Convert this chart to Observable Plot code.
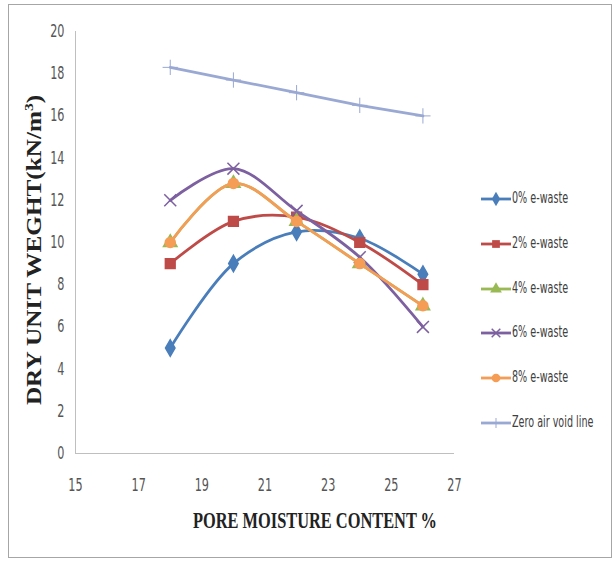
<!DOCTYPE html>
<html><head><meta charset="utf-8">
<script src="https://cdn.jsdelivr.net/npm/d3@7"></script>
<script src="https://cdn.jsdelivr.net/npm/@observablehq/plot@0.6"></script>
<style>
body{margin:0;background:#fff;}
#wrap{position:relative;width:614px;height:563px;overflow:hidden;}
#frame{position:absolute;left:8px;top:4px;width:604px;height:554px;border:1px solid #a6a6a6;box-sizing:border-box;}
#legend{position:absolute;left:481px;top:189px;font-family:"DejaVu Sans",sans-serif;font-size:15px;color:#404040;}
.li{height:44.8px;display:flex;align-items:flex-start;white-space:nowrap;}
.li svg{margin-right:1px;margin-top:1px;flex:none;}
.li span{display:inline-block;transform:scaleX(0.64);transform-origin:0 50%;}
</style></head>
<body><div id="wrap"><div id="frame"></div><div id="chart"></div><div id="legend"></div></div>
<script>
const moisture = [18, 20, 22, 24, 26];
const seriesNames = ["0% e-waste","2% e-waste","4% e-waste","6% e-waste","8% e-waste","Zero air void line"];
const w0 = [5, 9, 10.5, 10.2, 8.5];
const w2 = [9, 11, 11.2, 10, 8];
const w4 = [10, 12.8, 11, 9, 7];
const w6 = [12, 13.5, 11.5, 9.3, 6];
const w8 = [10, 12.8, 11, 9, 7];
const zav = [18.3, 17.7, 17.1, 16.5, 16.0];
const xTicks = [15, 17, 19, 21, 23, 25, 27];
const yTicks = [0, 2, 4, 6, 8, 10, 12, 14, 16, 18, 20];
const colors = ["#4A7EBB","#BE4B48","#98B954","#7D60A0","#F59D56","#9AA9D3"];
const symbols = ["diamond","square","triangle","times","circle","plus"];
const values = [w0, w2, w4, w6, w8, zav];

const data = [];
values.forEach((arr, i) => arr.forEach((v, j) => data.push({s: seriesNames[i], x: moisture[j], y: v})));

const marks = [
  Plot.ruleY([0], {stroke: "#bfbfbf"}),
  Plot.ruleX([15], {stroke: "#bfbfbf"}),
];
const order = [5, 0, 1, 2, 3, 4];
order.forEach(i => {
  const d = data.filter(p => p.s === seriesNames[i]);
  marks.push(Plot.line(d, {x: "x", y: "y", stroke: colors[i], strokeWidth: 2.8, curve: i === 5 ? "linear" : "catmull-rom"}));
  const sym = symbols[i];
  if (sym === "times") {
    marks.push(Plot.dot(d, {x: "x", y: "y", symbol: "times", r: 5.5, stroke: colors[i], strokeWidth: 1.5}));
  } else if (sym === "plus") {
    marks.push(Plot.dot(d, {x: "x", y: "y", symbol: "plus", r: 5, stroke: colors[i], strokeWidth: 1}));
  } else {
    marks.push(Plot.dot(d, {x: "x", y: "y", symbol: sym, r: sym === "square" ? 5.5 : 5, fill: colors[i], stroke: colors[i]}));
  }
});

const chart = Plot.plot({
  width: 614, height: 563,
  marginLeft: 75, marginRight: 160, marginTop: 31, marginBottom: 110,
  style: {fontFamily: "'DejaVu Sans',sans-serif", fontSize: "17px", color: "#555", background: "transparent"},
  x: {type: "linear", domain: [15, 27], label: null},
  y: {type: "linear", domain: [0, 20], label: null},
  marks: [
    ...marks,
    Plot.axisX({ticks: xTicks, tickSize: 0, tickPadding: 25, label: null, fontSize: 17}),
    Plot.axisY({ticks: yTicks, tickSize: 0, tickPadding: 11, label: null, fontSize: 17})
  ]
});
document.getElementById("chart").appendChild(chart);
const svg = d3.select(chart);
svg.selectAll('g[aria-label="x-axis tick label"] text, g[aria-label="y-axis tick label"] text').each(function() {
  const L = this.getComputedTextLength();
  this.setAttribute("textLength", L * 0.66);
  this.setAttribute("lengthAdjust", "spacingAndGlyphs");
});
svg.append("text")
  .attr("x", 315).attr("y", 528)
  .attr("text-anchor", "middle")
  .attr("font-family", "'Liberation Serif',serif").attr("font-weight", "bold").attr("font-size", 24).attr("fill", "#222")
  .attr("textLength", 244).attr("lengthAdjust", "spacingAndGlyphs")
  .text("PORE MOISTURE CONTENT %");
const yt = svg.append("text")
  .attr("transform", "translate(41,250) rotate(-90) scale(1.2,1)")
  .attr("text-anchor", "middle")
  .attr("font-family", "'Liberation Serif',serif").attr("font-weight", "bold").attr("font-size", 21).attr("fill", "#222");
yt.append("tspan").text("DRY UNIT WEGHT(kN/m");
yt.append("tspan").attr("font-size", 13).attr("dy", -8).text("3");
yt.append("tspan").attr("dy", 8).text(")");

const leg = d3.select("#legend");
seriesNames.forEach((name, i) => {
  const row = leg.append("div").attr("class", "li");
  const s = row.append("svg").attr("width", 30).attr("height", 16);
  s.append("line").attr("x1", 0).attr("x2", 30).attr("y1", 9).attr("y2", 9).attr("stroke", colors[i]).attr("stroke-width", 2.8);
  const sym = symbols[i];
  const g = s.append("g").attr("transform", "translate(15,9)");
  if (sym === "plus") g.append("line").attr("y1", -5).attr("y2", 5).attr("stroke", colors[i]);
  else if (sym === "times") g.append("path").attr("d", d3.symbol(d3.symbolTimes, 50)()).attr("stroke", colors[i]).attr("fill", "none").attr("stroke-width", 1.5);
  else {
    const t = {diamond: d3.symbolDiamond, square: d3.symbolSquare, triangle: d3.symbolTriangle, circle: d3.symbolCircle}[sym];
    g.append("path").attr("d", d3.symbol(t, 60)()).attr("fill", colors[i]);
  }
  row.append("span").text(name);
});
</script></body></html>
